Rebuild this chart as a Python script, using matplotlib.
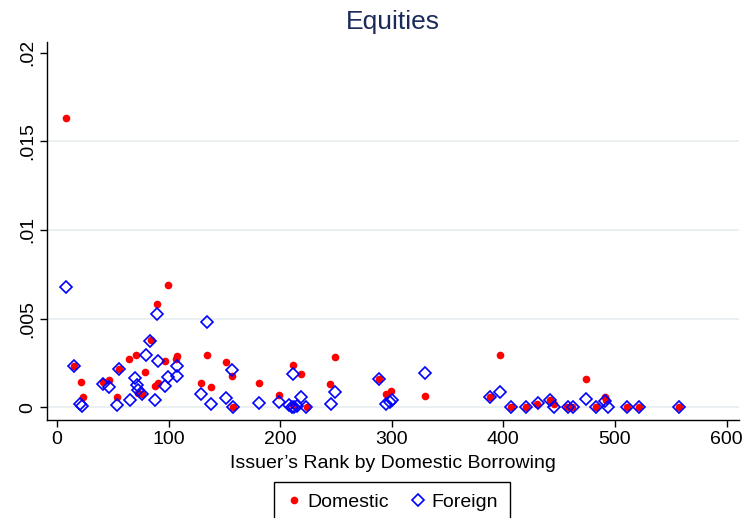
import matplotlib.pyplot as plt
import numpy as np

plt.rcParams['font.family'] = ['Liberation Sans', 'DejaVu Sans']

# values
dom_rank = [8.1, 15.3, 21.2, 23.0, 41.5, 46.9, 54.1, 55.9, 64.6, 70.6, 73.0, 76.5,
            78.9, 84.0, 87.9, 89.7, 90.9, 96.8, 99.9, 107.3, 106.8, 129.5,
            134.8, 137.8, 151.6, 156.7, 157.6, 181.4, 199.4, 211.4, 211.7, 218.5,
            224.1, 244.9, 249.3, 288.2, 295.0, 299.3, 330.0, 388.3, 396.7, 406.9,
            420.5, 430.6, 442.1, 445.1, 457.3, 461.8, 474.4, 483.0, 491.4, 492.4,
            510.9, 521.3, 557.5]
dom_share = [0.0163, 0.00231, 0.00141, 0.00058, 0.00143, 0.00156, 0.00055, 0.00216,
             0.00274, 0.00293, 0.00081, 0.00077, 0.00201, 0.00377, 0.00118,
             0.00584, 0.00134, 0.00261, 0.00689, 0.00286, 0.00274, 0.00138,
             0.00295, 0.00111, 0.00257, 0.00175, 0.0, 0.00137, 0.00071, 0.00235,
             0.0001, 0.00186, 0.0, 0.0013, 0.00282, 0.0016, 0.00073, 0.00092,
             0.00064, 0.00058, 0.00297, 0.0, 0.0, 0.0002, 0.00039, 0.00017, 0.0,
             0.0, 0.00158, 0.0, 0.00056, 0.00039, 0.0, 0.0, 0.0]

for_rank = [8.3, 15.3, 20.5, 22.1, 41.5, 46.9, 54.1, 55.9, 65.5, 69.9, 71.5, 73.0,
            76.0, 79.5, 83.7, 87.9, 89.7, 90.9, 96.8, 99.9, 107.3, 107.9, 129.0,
            134.8, 137.8, 151.6, 156.7, 157.6, 181.4, 199.4, 208.3, 210.4, 211.4,
            212.5, 214.9, 218.5, 223.3, 245.5, 249.3, 288.2, 294.7, 298.1, 300.2,
            330.0, 388.3, 396.7, 406.9, 420.5, 431.1, 442.1, 445.7, 457.7, 462.4,
            474.4, 482.8, 491.4, 493.6, 510.9, 521.3, 557.5]
for_share = [0.0068, 0.00231, 0.00015, 0.00007, 0.00128, 0.00111, 0.00011, 0.00218,
             0.0004, 0.00167, 0.00124, 0.00096, 0.00077, 0.00293, 0.00372,
             0.00043, 0.00528, 0.00261, 0.00118, 0.00171, 0.00175, 0.00231,
             0.00075, 0.00479, 0.00017, 0.00049, 0.00208, 0.00002, 0.00024,
             0.0003, 0.0001, 0.00003, 0.00188, 0.0, 0.00005, 0.00055, 0.0,
             0.00015, 0.00083, 0.0016, 0.00017, 0.0003, 0.00039, 0.00193,
             0.00058, 0.00086, 0.0, 0.0, 0.00022, 0.00039, 0.0, 0.0, 0.0,
             0.00045, 0.0, 0.00035, 0.0, 0.0, 0.0, 0.0]

x_ticks = [0, 100, 200, 300, 400, 500, 600]
y_ticks = [0, 0.005, 0.01, 0.015, 0.02]
y_labels = ['0', '.005', '.01', '.015', '.02']

fig = plt.figure(figsize=(7.44, 5.18), dpi=100)
ax = fig.add_axes([0.063, 0.189, 0.93, 0.73])

ax.plot(dom_rank, dom_share, 'o', color='red', markersize=5.5,
        markeredgewidth=0, label='Domestic', zorder=3)
ax.plot(for_rank, for_share, 'D', markerfacecolor='none', markeredgecolor='blue',
        markersize=6.3, markeredgewidth=1.2, label='Foreign', zorder=4)

ax.set_xlim(-9, 611)
ax.set_ylim(-0.00073, 0.0206)
ax.set_xticks(x_ticks)
ax.set_yticks(y_ticks)
ax.set_yticklabels(y_labels, rotation=90, va='center')
ax.tick_params(labelsize=14, length=5, width=1, color='black', pad=3)

# grid lines at the inner y ticks only (none at the top label)
for g in y_ticks[:-1]:
    ax.axhline(g, color='#e6eef0', linewidth=1.2, zorder=0)

for s in ['top', 'right']:
    ax.spines[s].set_visible(False)
for s in ['left', 'bottom']:
    ax.spines[s].set_linewidth(1)

ax.set_xlabel('Issuer\u2019s Rank by Domestic Borrowing', fontsize=14, labelpad=5)
ax.set_title('Equities', fontsize=19, color='#1a2a5a', pad=9)

fig.legend(loc='upper center', bbox_to_anchor=(0.527, 0.0695), ncol=2,
           fontsize=14, frameon=True, fancybox=False, edgecolor='black',
           framealpha=1, handlelength=0.8, handletextpad=0.3,
           columnspacing=1.1, borderpad=0.6, borderaxespad=0)

plt.savefig('out.png', dpi=100)
